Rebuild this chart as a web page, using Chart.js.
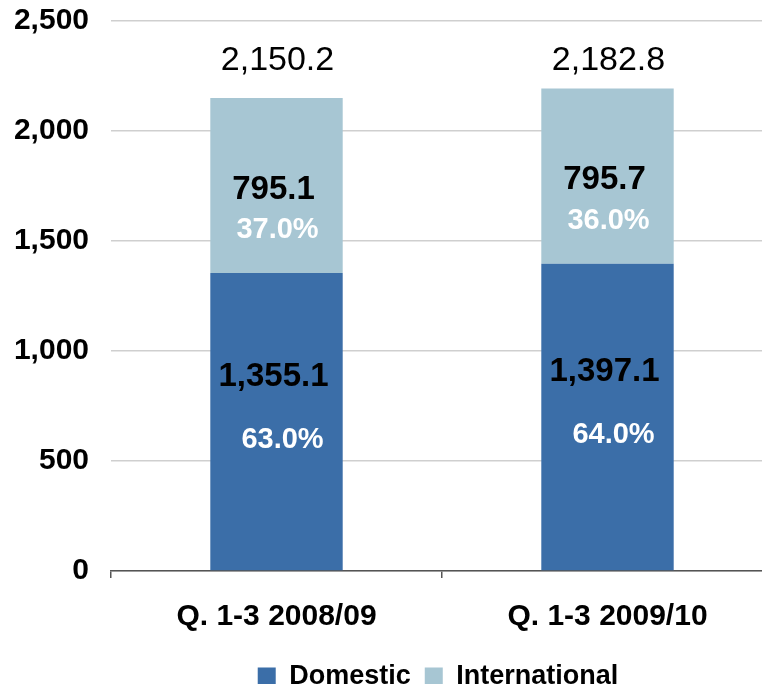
<!DOCTYPE html>
<html>
<head>
<meta charset="utf-8">
<script src="https://cdn.jsdelivr.net/npm/chart.js@4/dist/chart.umd.min.js"></script>
<style>
  html, body { margin: 0; padding: 0; background: #ffffff; overflow: hidden; }
  #wrap { position: absolute; left: 0; top: 0; width: 774px; height: 700px; }
</style>
</head>
<body>
<div id="wrap"><canvas id="chart"></canvas></div>
<script>
// Revenue split, first three quarters of each financial year
const categories = ['Q. 1-3 2008/09', 'Q. 1-3 2009/10'];
const domestic = [1355.1, 1397.1];
const international = [795.1, 795.7];
const totals = [2150.2, 2182.8];
const domesticShare = ['63.0%', '64.0%'];
const internationalShare = ['37.0%', '36.0%'];
const seriesNames = ['Domestic', 'International'];

const FONT = '"Liberation Sans", Arial, Helvetica, sans-serif';
const DOMESTIC_COLOR = '#3B6EA8';
const INTERNATIONAL_COLOR = '#A7C6D3';

const fmt1 = v => v.toLocaleString('en-US', { minimumFractionDigits: 1, maximumFractionDigits: 1 });

// Value and share labels inside each segment, totals above the stacks
const barLabels = {
  id: 'barLabels',
  afterDatasetsDraw(chart) {
    const ctx = chart.ctx;
    const dom = chart.getDatasetMeta(0).data;
    const intl = chart.getDatasetMeta(1).data;
    const stackTop = Math.min(...intl.map(b => b.y));
    ctx.save();
    ctx.textAlign = 'center';
    ctx.textBaseline = 'middle';
    categories.forEach((_, i) => {
      const d = dom[i], n = intl[i];
      const dMid = (d.y + d.base) / 2;
      const nMid = (n.y + n.base) / 2;

      ctx.fillStyle = '#000000';
      ctx.font = 'bold 33px ' + FONT;
      ctx.fillText(fmt1(international[i]), n.x - 3, nMid + 4);
      ctx.fillText(fmt1(domestic[i]), d.x - 3, dMid - 45);

      ctx.fillStyle = '#ffffff';
      ctx.font = 'bold 29px ' + FONT;
      ctx.fillText(internationalShare[i], n.x + 1, nMid + 45);
      ctx.fillText(domesticShare[i], d.x + 6, dMid + 18);

      ctx.fillStyle = '#000000';
      ctx.font = '34px ' + FONT;
      ctx.fillText(fmt1(totals[i]), n.x + 1, stackTop - 28);
    });
    ctx.restore();
  }
};

// Center the legend under the plotting area
const legendOverArea = {
  id: 'legendOverArea',
  afterLayout(chart) {
    const lg = chart.legend;
    if (!lg) return;
    const area = chart.chartArea;
    const shift = (area.left + area.right) / 2 - (lg.left + lg.right) / 2 - 4;
    lg.left += shift;
    lg.right += shift;
  }
};

new Chart(document.getElementById('chart'), {
  type: 'bar',
  data: {
    labels: categories,
    datasets: [
      { label: seriesNames[0], data: domestic, backgroundColor: DOMESTIC_COLOR, borderWidth: 0 },
      { label: seriesNames[1], data: international, backgroundColor: INTERNATIONAL_COLOR, borderWidth: 0 }
    ]
  },
  options: {
    responsive: true,
    maintainAspectRatio: false,
    animation: false,
    datasets: { bar: { categoryPercentage: 1.0, barPercentage: 0.40 } },
    layout: { padding: { top: 21, right: 1, bottom: 0, left: 0 } },
    plugins: {
      legend: {
        position: 'bottom',
        labels: {
          boxWidth: 18,
          boxHeight: 18,
          padding: 14,
          color: '#000000',
          font: { family: FONT, size: 27, weight: 'bold' }
        }
      },
      tooltip: { enabled: false }
    },
    scales: {
      x: {
        stacked: true,
        grid: { display: true, drawOnChartArea: false, drawTicks: true, tickLength: 7, color: '#555555', lineWidth: 1.5, offset: true },
        border: { display: true, color: '#555555', width: 1.5 },
        ticks: { color: '#000000', padding: 21, font: { family: FONT, size: 30, weight: 'bold' } },
        afterFit(scale) { scale.height = 78; }
      },
      y: {
        stacked: true,
        min: 0,
        max: 2500,
        grid: { color: '#cfcfcf', lineWidth: 1.5, drawTicks: false },
        border: { display: false },
        ticks: {
          stepSize: 500,
          padding: 22,
          color: '#000000',
          font: { family: FONT, size: 30, weight: 'bold' },
          callback: v => v.toLocaleString('en-US')
        },
        afterFit(scale) {
          scale.width = 111;
          scale.paddingTop = 0;
          scale.paddingBottom = 0;
        }
      }
    }
  },
  plugins: [barLabels, legendOverArea]
});
</script>
</body>
</html>
